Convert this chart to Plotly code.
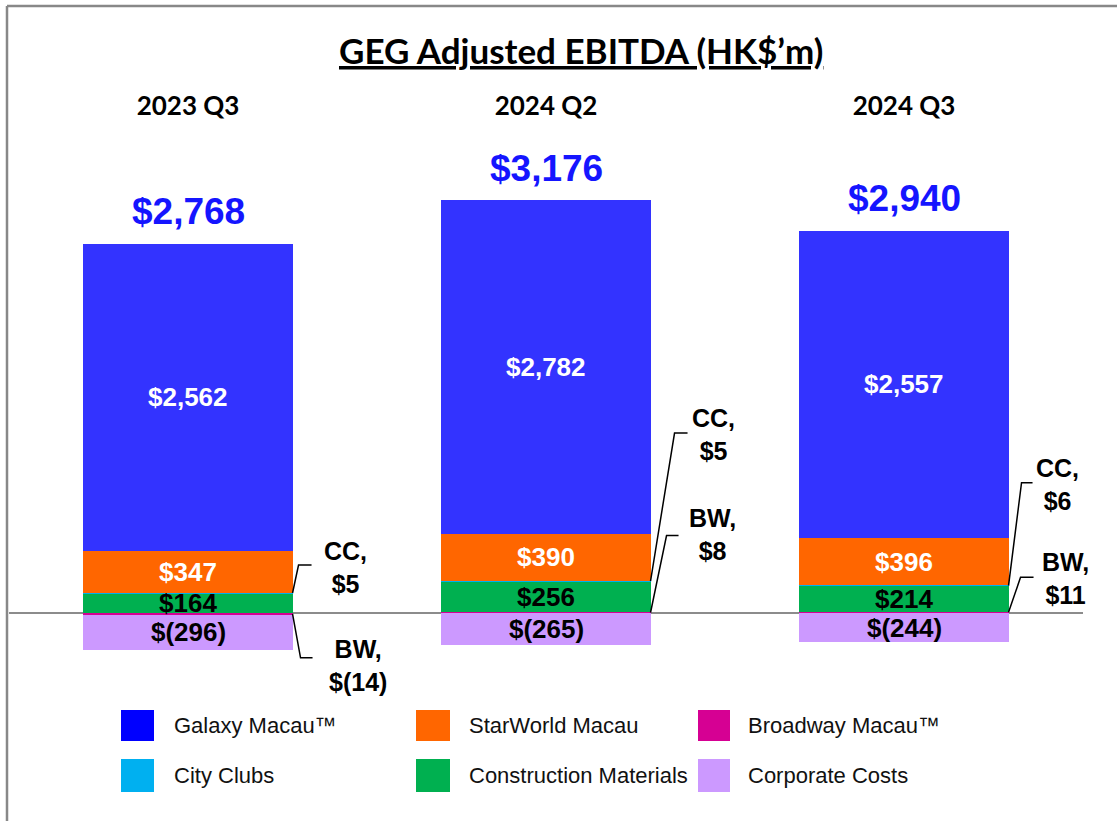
import plotly.graph_objects as go

# ---------------- data ----------------
categories = ["2023 Q3", "2024 Q2", "2024 Q3"]
galaxy = [2562, 2782, 2557]
starworld = [347, 390, 396]
broadway = [-14, 8, 11]
city_clubs = [5, 5, 6]
construction = [164, 256, 214]
corporate = [-296, -265, -244]

# ---------------- styles ----------------
W, H = 1117, 821
PL, PR, PT, PB = 9, 1083, 125, 690          # plot area in pixels
PX_PER_UNIT = 0.12
ZERO_PX = 613
Y_TOP = (ZERO_PX - PT) / PX_PER_UNIT
Y_BOT = -(PB - ZERO_PX) / PX_PER_UNIT
BAR_W = 0.584

bar_colors = {
    "Galaxy Macau™": "#3333FF",
    "StarWorld Macau": "#FF6600",
    "Broadway Macau™": "#D60093",
    "City Clubs": "#00B0F0",
    "Construction Materials": "#00B050",
    "Corporate Costs": "#CC99FF",
}
legend_colors = {
    "Galaxy Macau™": "#0000FF",
    "StarWorld Macau": "#FF6600",
    "Broadway Macau™": "#D60093",
    "City Clubs": "#00B0F0",
    "Construction Materials": "#00B050",
    "Corporate Costs": "#CC99FF",
}
legend_order = ["Galaxy Macau™", "StarWorld Macau", "Broadway Macau™",
                "City Clubs", "Construction Materials", "Corporate Costs"]

# stacking order (bottom to top / top to bottom for negatives)
stack = [
    ("Broadway Macau™", broadway),
    ("Construction Materials", construction),
    ("City Clubs", city_clubs),
    ("StarWorld Macau", starworld),
    ("Galaxy Macau™", galaxy),
    ("Corporate Costs", corporate),
]

LABEL_FONT = "Liberation Sans, Arial, sans-serif"
HEAD_FONT = "Lato, Carlito, Calibri, sans-serif"


def money(v):
    return f"${v:,}" if v >= 0 else f"$({abs(v):,})"


def px_to_paper_x(px):
    return (px - PL) / (PR - PL)


def px_to_paper_y(py):
    return (PB - py) / (PB - PT)


fig = go.Figure()

# compute segment extents as plotly's relative stacking does
pos = [0.0] * len(categories)
neg = [0.0] * len(categories)
segments = {}
for name, vals in stack:
    segs = []
    for i, v in enumerate(vals):
        if v >= 0:
            b = pos[i]
            pos[i] += v
        else:
            b = neg[i]
            neg[i] += v
        segs.append((b, b + v))
    segments[name] = segs
    fig.add_trace(go.Bar(
        x=categories, y=vals, name=name, width=BAR_W,
        marker=dict(color=bar_colors[name], line=dict(width=0)),
        showlegend=False, hoverinfo="skip",
    ))

annotations = []
# inside labels
inside = [("Galaxy Macau™", galaxy, "white"),
          ("StarWorld Macau", starworld, "white"),
          ("Construction Materials", construction, "black"),
          ("Corporate Costs", corporate, "black")]
for name, vals, col in inside:
    for i, v in enumerate(vals):
        b, t = segments[name][i]
        annotations.append(dict(
            x=i, y=(b + t) / 2, xref="x", yref="y", text=f"<b>{money(v)}</b>",
            showarrow=False, font=dict(family=LABEL_FONT, size=26, color=col),
            xanchor="center", yanchor="middle"))

# totals
totals = [sum(vals[i] for _, vals in stack) for i in range(len(categories))]
for i, tot in enumerate(totals):
    annotations.append(dict(
        x=i, y=pos[i], xref="x", yref="y", text=f"<b>{money(tot)}</b>",
        showarrow=False, font=dict(family=LABEL_FONT, size=37, color="#1515FF"),
        xanchor="center", yanchor="middle", yshift=32))

# callouts: leader elbow (dx, dy), end dx, label offset (dx, dy)
cc_style = [((6, 28), 19, (53, 26)), ((24, 148), 37, (63, 147)), ((13, 103), 24, (49, 101))]
bw_style = [((8, -44), 20, (65, -52)), ((16, 77), 28, (62, 78)), ((12, 35), 25, (57, 34))]

shapes = []
for tag, name, vals, styles in [("CC", "City Clubs", city_clubs, cc_style),
                                ("BW", "Broadway Macau™", broadway, bw_style)]:
    for i, v in enumerate(vals):
        b, t = segments[name][i]
        anchor_y = (b + t) / 2
        (ex, ey), endx, (lx, ly) = styles[i]
        xa = i + BAR_W / 2
        shapes.append(dict(
            type="path", xref="x", yref="y", xsizemode="pixel", ysizemode="pixel",
            xanchor=xa, yanchor=anchor_y,
            path=f"M0,0 L{ex},{ey} L{endx},{ey}",
            line=dict(color="black", width=1.5)))
        annotations.append(dict(
            x=xa, y=anchor_y, xref="x", yref="y", xshift=lx, yshift=ly,
            text=f"<b>{tag},<br>{money(v)}</b>", showarrow=False, align="center",
            font=dict(family=LABEL_FONT, size=25, color="black"),
            xanchor="center", yanchor="middle"))

# title
annotations.append(dict(
    x=px_to_paper_x(581), y=px_to_paper_y(50), xref="paper", yref="paper",
    text="<b><u>GEG Adjusted EBITDA (HK$’m)</u></b>", showarrow=False,
    font=dict(family=HEAD_FONT, size=35, color="black"),
    xanchor="center", yanchor="middle"))

# custom legend (large swatches)
leg_cols = [(121, 154, 172), (416, 450, 467), (698, 730, 746)]
leg_rows = [(710, 741), (759, 792)]
for k, name in enumerate(legend_order):
    r, c = divmod(k, 3)
    x0, x1, tx = leg_cols[c]
    y0, y1 = leg_rows[r]
    shapes.append(dict(
        type="rect", xref="paper", yref="paper",
        x0=px_to_paper_x(x0), x1=px_to_paper_x(x1),
        y0=px_to_paper_y(y1), y1=px_to_paper_y(y0),
        fillcolor=legend_colors[name], line=dict(width=0)))
    annotations.append(dict(
        x=px_to_paper_x(tx), y=px_to_paper_y((y0 + y1) / 2), xref="paper", yref="paper",
        text=name, showarrow=False, xanchor="left", yanchor="middle",
        font=dict(family=LABEL_FONT, size=22, color="#111111")))

# outer frame (top and left edges)
shapes.append(dict(type="line", xref="paper", yref="paper",
                   x0=px_to_paper_x(7), x1=px_to_paper_x(W + 5),
                   y0=px_to_paper_y(6), y1=px_to_paper_y(6),
                   line=dict(color="#888888", width=2.5)))
shapes.append(dict(type="line", xref="paper", yref="paper",
                   x0=px_to_paper_x(7), x1=px_to_paper_x(7),
                   y0=px_to_paper_y(6), y1=px_to_paper_y(H + 5),
                   line=dict(color="#888888", width=2.5)))

fig.update_layout(
    width=W, height=H,
    margin=dict(l=PL, r=W - PR, t=PT, b=H - PB, pad=0),
    paper_bgcolor="white", plot_bgcolor="white",
    barmode="relative", bargap=0,
    showlegend=False,
    annotations=annotations, shapes=shapes,
    xaxis=dict(side="top", showgrid=False, zeroline=False, showline=False,
               ticks="", ticklabelstandoff=4,
               tickfont=dict(family=HEAD_FONT, size=26, color="black"),
               range=[-0.5, 2.5], fixedrange=True),
    yaxis=dict(range=[Y_BOT, Y_TOP], showgrid=False, showticklabels=False,
               zeroline=True, zerolinecolor="#8C8C8C", zerolinewidth=2,
               showline=False, ticks="", fixedrange=True),
)
fig.update_xaxes(tickvals=categories, ticktext=[f"<b>{c}</b>" for c in categories])

fig.write_html("out.html", config={"displayModeBar": False},
               post_script="document.body.style.margin='0';")
